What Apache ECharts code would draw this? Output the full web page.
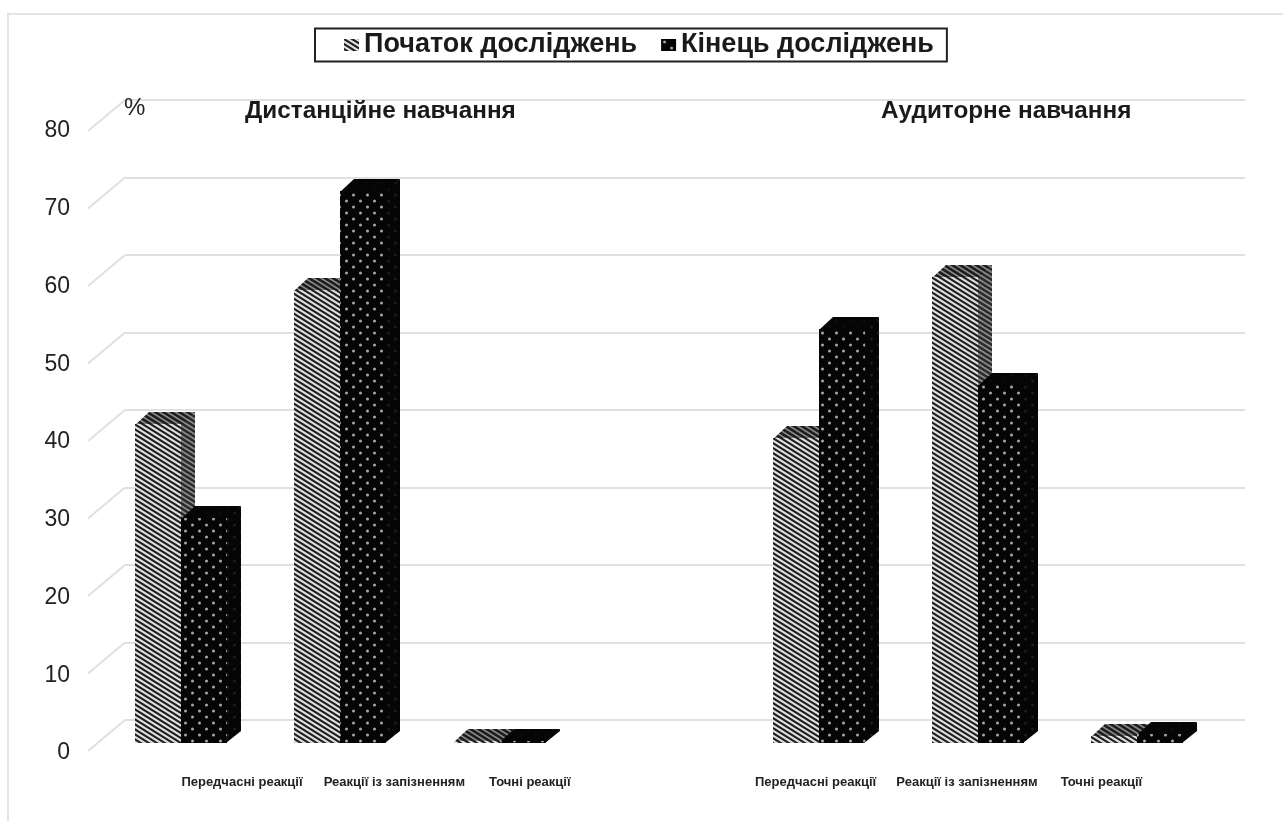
<!DOCTYPE html>
<html>
<head>
<meta charset="utf-8">
<title>Реакції: дистанційне та аудиторне навчання</title>
<script src="https://cdn.jsdelivr.net/npm/echarts@6/dist/echarts.min.js"></script>
<style>
  html, body { margin: 0; padding: 0; background: #fff; }
  #chart { width: 1283px; height: 821px; }
</style>
</head>
<body>
<div id="chart"></div>
<script>
// Chart content
const categories = [
  'Передчасні реакції', 'Реакції із запізненням', 'Точні реакції', '',
  'Передчасні реакції', 'Реакції із запізненням', 'Точні реакції'
];
const seriesNames = ['Початок досліджень', 'Кінець досліджень'];
const startValues = [41, 58.3, 0.3, null, 39.2, 60, 0.9];
const endValues = [29, 71, 0.3, null, 53.2, 46, 1.1];
const valueTicks = [0, 10, 20, 30, 40, 50, 60, 70, 80];

// Layout of the pseudo-3D drawing, in pixels
const barWidth = 46;
const depth = { x: 14, y: 12 };
const wallToFront = { x: -37, y: 31 };
const categoryLabelShift = [61, 54, 30, 0, -3, -11, -36];
const categoryLabelY = 782;

// Tiled fills for the bar faces
function tile(w, h, paint) {
  const c = document.createElement('canvas');
  c.width = w; c.height = h;
  paint(c.getContext('2d'), w, h);
  return { image: c, repeat: 'repeat' };
}
function stripes(bg, fg, lw) {
  return tile(8, 5, (g, w, h) => {
    g.fillStyle = bg; g.fillRect(0, 0, w, h);
    g.strokeStyle = fg; g.lineWidth = lw;
    for (let i = -2; i <= 2; i++) {
      g.beginPath(); g.moveTo(-8, i * 5 - 5); g.lineTo(16, i * 5 + 10); g.stroke();
    }
  });
}
function dots(bg, fg) {
  return tile(14, 12, (g, w, h) => {
    g.fillStyle = bg; g.fillRect(0, 0, w, h);
    g.fillStyle = fg;
    g.beginPath(); g.arc(3.5, 3, 1.5, 0, Math.PI * 2); g.fill();
    g.beginPath(); g.arc(10.5, 9, 1.5, 0, Math.PI * 2); g.fill();
  });
}
const startFill = {
  front: stripes('#dedede', '#1c1c1c', 2),
  side: stripes('#8a8a8a', '#2a2a2a', 2.4),
  top: stripes('#8a8a8a', '#1c1c1c', 2.6)
};
const endFill = {
  front: dots('#050505', '#a8a8a8'),
  side: dots('#050505', '#1e1e1e'),
  top: dots('#050505', '#0c0c0c')
};

// One bar: side face, top face, front face
function barRenderer(fills, offset) {
  return (params, api) => {
    const value = api.value(1);
    if (value == null || isNaN(value)) return null;
    const top = api.coord([api.value(0), value]);
    const base = api.coord([api.value(0), 0]);
    const l = Math.round(top[0] + offset);
    const r = l + barWidth;
    const yTop = Math.round(top[1]);
    const yBase = Math.round(base[1]);
    const d = depth;
    return {
      type: 'group',
      children: [
        { type: 'polygon', shape: { points: [[r - 1, yTop], [r + d.x, yTop - d.y], [r + d.x, yBase - d.y], [r - 1, yBase]] }, style: { fill: fills.side } },
        { type: 'polygon', shape: { points: [[l, yTop + 1], [l + d.x, yTop - d.y], [r + d.x, yTop - d.y], [r, yTop + 1]] }, style: { fill: fills.top } },
        { type: 'rect', shape: { x: l, y: yTop, width: barWidth, height: yBase - yTop }, style: { fill: fills.front } }
      ]
    };
  };
}

const chart = echarts.init(document.getElementById('chart'), null, { renderer: 'canvas' });

const titleStyle = { fontFamily: 'Liberation Sans', fontWeight: 'bold', fontSize: 24.3, color: '#1a1a1a' };

chart.setOption({
  animation: false,
  backgroundColor: '#fff',
  graphic: [
    {
      // thin frame around the plot area
      type: 'polyline', silent: true, z: 0,
      shape: { points: [[8, 821], [8, 14], [1283, 14]] },
      style: { stroke: '#e4e4e4', lineWidth: 2, fill: null }
    }
  ],
  title: [
    { text: 'Дистанційне навчання', left: 245, top: 99, textStyle: titleStyle, padding: 0 },
    { text: 'Аудиторне навчання', left: 881, top: 99, textStyle: titleStyle, padding: 0 },
    { text: '%', left: 124, top: 96, padding: 0, textStyle: { fontFamily: 'Liberation Sans', fontWeight: 'normal', fontSize: 24, color: '#222' } }
  ],
  legend: {
    left: 315, top: 28.5,
    padding: [3, 13, 3, 29],
    borderColor: '#222', borderWidth: 2, backgroundColor: '#fff',
    itemWidth: 15, itemHeight: 12, itemGap: 24,
    textStyle: { fontFamily: 'Liberation Sans', fontWeight: 'bold', fontSize: 27, color: '#1a1a1a' },
    data: [
      { name: seriesNames[0], icon: 'rect', itemStyle: { color: startFill.front } },
      { name: seriesNames[1], icon: 'rect', itemStyle: { color: endFill.front } }
    ]
  },
  grid: [
    // back wall with its gridlines
    { left: 125, right: 38, top: 100, bottom: 101 },
    // plane of the value labels
    { left: 88, right: 38, top: 131, bottom: 68 },
    // plane of the bars
    { left: 101.3, right: 65.9, top: 121, bottom: 78 }
  ],
  xAxis: [
    { gridIndex: 0, type: 'value', min: 0, max: 1, show: false },
    { gridIndex: 1, type: 'value', min: 0, max: 1, show: false },
    { gridIndex: 2, type: 'category', data: categories, show: false }
  ],
  yAxis: [
    {
      gridIndex: 0, type: 'value', min: 0, max: 80, interval: 10,
      axisLine: { show: false }, axisTick: { show: false }, axisLabel: { show: false },
      splitLine: { lineStyle: { color: '#e0e0e0', width: 2 } }
    },
    {
      gridIndex: 1, type: 'value', min: 0, max: 80, interval: 10,
      axisLine: { show: false }, axisTick: { show: false }, splitLine: { show: false },
      axisLabel: { margin: 18, fontFamily: 'Liberation Sans', fontSize: 23, color: '#222' }
    },
    { gridIndex: 2, type: 'value', min: 0, max: 80, show: false }
  ],
  series: [
    {
      // side-wall lines joining the front edge to the back wall
      type: 'custom', xAxisIndex: 0, yAxisIndex: 0, silent: true, z: 1,
      data: valueTicks.map(v => [0, v]),
      renderItem: (params, api) => {
        const p = api.coord([api.value(0), api.value(1)]);
        return {
          type: 'line',
          shape: { x1: p[0], y1: p[1], x2: p[0] + wallToFront.x, y2: p[1] + wallToFront.y },
          style: { stroke: '#e0e0e0', lineWidth: 2 }
        };
      }
    },
    {
      name: seriesNames[0], type: 'custom', xAxisIndex: 2, yAxisIndex: 2, z: 3,
      itemStyle: { color: startFill.front },
      data: startValues.map((v, i) => [i, v]),
      renderItem: barRenderer(startFill, -barWidth)
    },
    {
      name: seriesNames[1], type: 'custom', xAxisIndex: 2, yAxisIndex: 2, z: 4,
      itemStyle: { color: endFill.front },
      data: endValues.map((v, i) => [i, v]),
      renderItem: barRenderer(endFill, 0)
    },
    {
      // category captions under each group
      type: 'custom', xAxisIndex: 2, yAxisIndex: 2, silent: true, z: 5,
      data: categories.map((c, i) => [i, 0]),
      renderItem: (params, api) => {
        const i = api.value(0);
        const p = api.coord([i, 0]);
        return {
          type: 'text',
          style: {
            x: p[0] + categoryLabelShift[i], y: categoryLabelY,
            text: categories[i], align: 'center', verticalAlign: 'middle',
            font: 'bold 13px "Liberation Sans"', fill: '#222'
          }
        };
      }
    }
  ]
});
</script>
</body>
</html>
